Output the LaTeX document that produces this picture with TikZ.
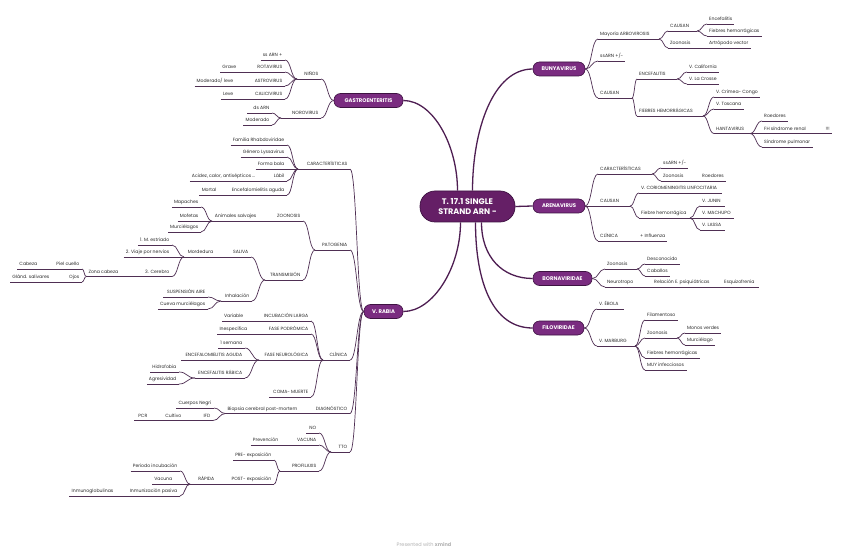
\documentclass[tikz,border=0pt]{standalone}
\usepackage{fontspec}
\setmainfont{Poppins}
\usetikzlibrary{calc}
\definecolor{lnc}{HTML}{4F2F53}
\definecolor{trunkc}{HTML}{4E1E52}
\definecolor{mainfill}{HTML}{7A2C80}
\definecolor{rootfill}{HTML}{651F66}
\definecolor{edgec}{HTML}{3E1242}
\definecolor{txt}{HTML}{2A2A2A}
\tikzset{
  lbl/.style={font=\fontsize{4.6}{5.5}\selectfont, text=txt, inner xsep=0pt, inner ysep=0.6pt, text height=0.75em, text depth=0.25em},
  ul/.style={draw=lnc, line width=0.7pt},
  trunk/.style={draw=trunkc, line width=1.3pt},
  mainbox/.style={rounded corners=6.5pt, fill=mainfill, draw=edgec, line width=0.6pt, text=white, font=\fontsize{5.3}{6}\selectfont\bfseries, minimum height=14pt, inner xsep=0pt, inner ysep=0pt},
  rootbox/.style={rounded corners=15pt, fill=rootfill, draw=edgec, line width=0.7pt, text=white, font=\fontsize{8.1}{10.8}\selectfont\bfseries, minimum width=95pt, minimum height=31pt, align=center, inner sep=0pt},
}
% right-side topic: name, x start, y line, length, text (line grows if text is longer)
\newcommand{\mmR}[5]{%
  \coordinate (#1-a) at (#2,#3);
  \node[lbl,anchor=south west] (#1) at ([xshift=2pt]#1-a) {#5};
  \path let \p1=(#1.south east), \p2=(#1-a) in coordinate (#1-b) at ({max(\x1+2pt,\x2+#4pt)},\y2);
  \draw[ul] (#1-a) -- (#1-b);}
% left-side topic: name, x right end, y line, length, text
\newcommand{\mmL}[5]{%
  \coordinate (#1-b) at (#2,#3);
  \node[lbl,anchor=south east] (#1) at ([xshift=-2.5pt]#1-b) {#5};
  \path let \p1=(#1.south west), \p2=(#1-b) in coordinate (#1-a) at ({min(\x1-2pt,\x2-#4pt)},\y2);
  \draw[ul] (#1-a) -- (#1-b);}
% curved connector between two points
\newcommand{\cc}[2]{\draw[ul] let \p1=(#1), \p2=(#2), \n1={(\x2-\x1)/2}, \n2={(\x1-\x2)/2} in (\p1) .. controls +(\n1,0) and +(\n2,0) .. (\p2);}
\begin{document}
\begin{tikzpicture}[x=1pt,y=-1pt]
\fill[white] (0,0) rectangle (848,553);
\useasboundingbox (0,0) rectangle (848,553);

% ---------- root and main topics ----------
\node[rootbox] (root) at (467.5,206.5) {T. 17.1 SINGLE\\STRAND ARN -};
\node[mainbox, minimum width=52pt] (bunya) at (559,69) {BUNYAVIRUS};
\node[mainbox, minimum width=52pt] (arena) at (559,206) {ARENAVIRUS};
\node[mainbox, minimum width=59pt] (borna) at (562.5,278.5) {BORNAVIRIDAE};
\node[mainbox, minimum width=51pt] (filo) at (558.5,328) {FILOVIRIDAE};
\node[mainbox, minimum width=69pt] (gastro) at (368.5,100.5) {GASTROENTERITIS};
\node[mainbox, minimum width=39pt] (rabia) at (383.5,311.5) {V. RABIA};

\draw[trunk] ([xshift=5pt]root.north) .. controls +(0,-60) and +(-40,0) .. (bunya.west);
\draw[trunk] ([xshift=-10pt]root.north) .. controls +(0,-45) and +(30,0) .. (gastro.east);
\draw[trunk] (root.east) -- (arena.west);
\draw[trunk] ([xshift=-7pt]root.south) .. controls +(0,45) and +(30,0) .. (rabia.east);
\draw[trunk] ([xshift=14pt]root.south) .. controls +(0,35) and +(-30,0) .. (borna.west);
\draw[trunk] ([xshift=8pt]root.south) .. controls +(0,60) and +(-40,0) .. (filo.west);

% ---------- BUNYAVIRUS ----------
\mmR{b1}{598}{39}{61}{Mayoría ARBOVIROSIS}
\mmR{b11}{668}{31}{29}{CAUSAN}
\mmR{b111}{707}{24}{27}{Encefalitis}
\mmR{b112}{707}{36}{51}{Fiebres hemorrágicas}
\mmR{b12}{668}{48}{36}{Zoonosis}
\mmR{b121}{707}{48}{44}{Artrópodo vector}
\mmR{b2}{598}{61}{26}{ssARN +/-}
\mmR{b3}{598}{98}{34}{CAUSAN}
\mmR{b31}{637}{79}{40}{ENCEFALITIS}
\mmR{b311}{687}{72}{30}{V. California}
\mmR{b312}{687}{84}{30}{V. La Crosse}
\mmR{b32}{637}{116}{66}{FIEBRES HEMORRÁGICAS}
\mmR{b321}{714}{97}{44}{V. Crimea- Congo}
\mmR{b322}{714}{109}{29}{V. Toscana}
\mmR{b323}{714}{133.5}{36}{HANTAVIRUS}
\mmR{b3231}{762}{121}{26}{Roedores}
\mmR{b3232}{762}{133.5}{70}{FH síndrome renal}
\node[lbl,anchor=south east] (b3232x) at ([xshift=-2pt]b3232-b) {!!!};
\mmR{b3233}{762}{147}{51}{Síndrome pulmonar}
\cc{bunya.east}{b1-a} \cc{bunya.east}{b2-a} \cc{bunya.east}{b3-a}
\cc{b1-b}{b11-a} \cc{b1-b}{b12-a}
\cc{b11-b}{b111-a} \cc{b11-b}{b112-a}
\draw[ul] (b12-b) -- (b121-a);
\cc{b3-b}{b31-a} \cc{b3-b}{b32-a}
\cc{b31-b}{b311-a} \cc{b31-b}{b312-a}
\cc{b32-b}{b321-a} \cc{b32-b}{b322-a} \cc{b32-b}{b323-a}
\cc{b323-b}{b3231-a} \draw[ul] (b323-b) -- (b3232-a); \cc{b323-b}{b3233-a}

% ---------- ARENAVIRUS ----------
\mmR{a1}{598}{174}{54}{CARACTERÍSTICAS}
\mmR{a11}{661}{168}{26}{ssARN +/-}
\mmR{a12}{661}{181}{36}{Zoonosis}
\mmR{a121}{700}{181}{25}{Roedores}
\mmR{a2}{598}{206}{32}{CAUSAN}
\mmR{a21}{639}{193}{83}{V. CORIOMENINGITIS LINFOCITARIA}
\mmR{a22}{639}{218}{51}{Fiebre hemorrágica}
\mmR{a221}{700}{206}{25}{V. JUNIN}
\mmR{a222}{700}{218}{34}{V. MACHUPO}
\mmR{a223}{700}{230}{25}{V. LASSA}
\mmR{a3}{598}{241}{36}{CLÍNICA}
\mmR{a31}{638}{241}{29}{+ Influenza}
\cc{arena.east}{a1-a} \draw[ul] (arena.east) -- (a2-a); \cc{arena.east}{a3-a}
\cc{a1-b}{a11-a} \cc{a1-b}{a12-a} \draw[ul] (a12-b) -- (a121-a);
\cc{a2-b}{a21-a} \cc{a2-b}{a22-a}
\cc{a22-b}{a221-a} \draw[ul] (a22-b) -- (a222-a); \cc{a22-b}{a223-a}
\draw[ul] (a3-b) -- (a31-a);

% ---------- BORNAVIRIDAE ----------
\mmR{r1}{605}{269}{32}{Zoonosis}
\mmR{r11}{645}{264}{34}{Desconocido}
\mmR{r12}{645}{276}{24}{Caballos}
\mmR{r2}{605}{287}{45}{Neurotropo}
\mmR{r21}{652}{287}{65}{Relación E. psiquiátricas}
\mmR{r211}{722}{287}{37}{Esquizofrenia}
\cc{borna.east}{r1-a} \cc{borna.east}{r2-a}
\cc{r1-b}{r11-a} \cc{r1-b}{r12-a}
\draw[ul] (r2-b) -- (r21-a); \draw[ul] (r21-b) -- (r211-a);

% ---------- FILOVIRIDAE ----------
\mmR{f1}{597}{309}{27}{V. ÉBOLA}
\mmR{f2}{597}{346}{38}{V. MARBURG}
\mmR{f21}{645}{320}{33}{Filamentoso}
\mmR{f22}{645}{338}{32}{Zoonosis}
\mmR{f221}{685}{333}{36}{Monos verdes}
\mmR{f222}{685}{345}{30}{Murciélago}
\mmR{f23}{645}{358}{52}{Fiebres hemorrágicas}
\mmR{f24}{645}{370}{42}{MUY infecciosos}
\cc{filo.east}{f1-a} \cc{filo.east}{f2-a}
\cc{f2-b}{f21-a} \cc{f2-b}{f22-a} \cc{f2-b}{f23-a} \cc{f2-b}{f24-a}
\cc{f22-b}{f221-a} \cc{f22-b}{f222-a}

% ---------- GASTROENTERITIS ----------
\mmL{g1}{321}{79}{24}{NIÑOS}
\mmL{g11}{285}{60}{24}{ss ARN +}
\mmL{g12}{285}{72}{32}{ROTAVIRUS}
\mmL{g121}{239}{72}{16}{Grave}
\mmL{g13}{285}{86}{35}{ASTROVIRUS}
\mmL{g131}{236}{86}{38}{Moderado/ leve}
\mmL{g14}{285}{99}{35}{CALICIVIRUS}
\mmL{g141}{236}{99}{13}{Leve}
\mmL{g2}{321}{118}{40}{NOROVIRUS}
\mmL{g21}{272}{113}{25}{ds ARN}
\mmL{g22}{272}{125}{27}{Moderado}
\cc{gastro.west}{g1-b} \cc{gastro.west}{g2-b}
\cc{g1-a}{g11-b} \cc{g1-a}{g12-b} \cc{g1-a}{g13-b} \cc{g1-a}{g14-b}
\draw[ul] (g12-a) -- (g121-b); \draw[ul] (g13-a) -- (g131-b); \draw[ul] (g14-a) -- (g141-b);
\cc{g2-a}{g21-b} \cc{g2-a}{g22-b}

% ---------- V. RABIA ----------
\mmL{c}{350}{169}{52}{CARACTERÍSTICAS}
\mmL{c1}{287}{145}{53}{Familia Rhabdoviridae}
\mmL{c2}{287}{157}{42}{Género Lyssavirus}
\mmL{c3}{287}{169}{29}{Forma bala}
\mmL{c4}{287}{181}{22}{Lábil}
\mmL{c41}{258}{181}{65}{Acidez, calor, antisépticos ...}
\mmL{c5}{287}{195}{55}{Encefalomielitis aguda}
\mmL{c51}{219}{195}{20}{Mortal}
\cc{c-a}{c1-b} \cc{c-a}{c2-b} \draw[ul] (c-a) -- (c3-b); \cc{c-a}{c4-b} \cc{c-a}{c5-b}
\draw[ul] (c4-a) -- (c41-b); \draw[ul] (c5-a) -- (c51-b);

\mmL{p}{350}{250}{35}{PATOGENIA}
\mmL{p1}{303}{221}{38}{ZOONOSIS}
\mmL{p11}{259}{221}{47}{Animales salvajes}
\mmL{p111}{201}{207}{28}{Mapaches}
\mmL{p112}{201}{221}{23}{Mofetas}
\mmL{p113}{201}{232}{32}{Murciélagos}
\mmL{p2}{303}{280}{38}{TRANSMISIÓN}
\mmL{p21}{251}{257}{27}{SALIVA}
\mmL{p211}{216}{257}{32}{Mordedura}
\mmL{p2111}{172}{245}{33}{1. M. estriado}
\mmL{p2112}{172}{257}{45}{2. Viaje por nervios}
\mmL{p2113}{172}{276.5}{28}{3. Cerebro}
\mmL{p21131}{121}{276.5}{31}{Zona cabeza}
\mmL{p211311}{82}{269}{30}{Piel cuello}
\mmL{p2113111}{40}{269}{22}{Cabeza}
\mmL{p211312}{82}{282}{16}{Ojos}
\mmL{p2113121}{52}{282}{37}{Glánd. salivares}
\mmL{p22}{252}{301}{31}{Inhalación}
\mmL{p221}{208}{297}{45}{SUSPENSIÓN AIRE}
\mmL{p222}{208}{309}{45}{Cueva murciélagos}
\cc{p-a}{p1-b} \cc{p-a}{p2-b}
\draw[ul] (p1-a) -- (p11-b);
\cc{p11-a}{p111-b} \draw[ul] (p11-a) -- (p112-b); \cc{p11-a}{p113-b}
\cc{p2-a}{p21-b} \cc{p2-a}{p22-b}
\draw[ul] (p21-a) -- (p211-b);
\cc{p211-a}{p2111-b} \draw[ul] (p211-a) -- (p2112-b); \cc{p211-a}{p2113-b}
\draw[ul] (p2113-a) -- (p21131-b);
\cc{p21131-a}{p211311-b} \cc{p21131-a}{p211312-b}
\draw[ul] (p211311-a) -- (p2113111-b); \draw[ul] (p211312-a) -- (p2113121-b);
\cc{p22-a}{p221-b} \cc{p22-a}{p222-b}

\mmL{k}{350}{360}{27}{CLÍNICA}
\mmL{k1}{311}{321}{52}{INCUBACIÓN LARGA}
\mmL{k11}{246}{321}{23}{Variable}
\mmL{k2}{311}{334}{48}{FASE PODRÓMICA}
\mmL{k21}{250}{334}{30}{Inespecífica}
\mmL{k3}{311}{360}{52}{FASE NEUROLÓGICA}
\mmL{k31}{245}{348}{25}{1 semana}
\mmL{k32}{245}{360}{64}{ENCEFALOMIELITIS AGUDA}
\mmL{k33}{245}{378}{50}{ENCEFALITIS RÁBICA}
\mmL{k331}{179}{372}{28}{Hidrofobia}
\mmL{k332}{179}{384}{29}{Agresividad}
\mmL{k4}{311}{397}{42}{COMA- MUERTE}
\cc{k-a}{k1-b} \cc{k-a}{k2-b} \draw[ul] (k-a) -- (k3-b); \cc{k-a}{k4-b}
\draw[ul] (k1-a) -- (k11-b); \draw[ul] (k2-a) -- (k21-b);
\cc{k3-a}{k31-b} \draw[ul] (k3-a) -- (k32-b); \cc{k3-a}{k33-b}
\cc{k33-a}{k331-b} \cc{k33-a}{k332-b}

\mmL{d}{350}{413.5}{36}{DIAGNÓSTICO}
\mmL{d1}{300}{413.5}{74}{Biopsia cerebral post-mortem}
\mmL{d11}{214}{408}{37}{Cuerpos Negri}
\mmL{d12}{213}{420.5}{14}{IFD}
\mmL{d121}{184}{420.5}{22}{Cultivo}
\mmL{d1211}{150}{420.5}{16}{PCR}
\draw[ul] (d-a) -- (d1-b);
\cc{d1-a}{d11-b} \cc{d1-a}{d12-b}
\draw[ul] (d12-a) -- (d121-b); \draw[ul] (d121-a) -- (d1211-b);

\mmL{t}{350}{452}{19}{TTO}
\mmL{t1}{319}{433}{13}{NO}
\mmL{t2}{319}{445}{29}{VACUNA}
\mmL{t21}{281}{445}{29}{Prevención}
\mmL{t3}{319}{471}{39}{PROFILAXIS}
\mmL{t31}{274}{460}{39}{PRE- exposición}
\mmL{t32}{274}{484}{47}{POST- exposición}
\mmL{t321}{217}{484}{27}{RÁPIDA}
\mmL{t3211}{180}{471}{48}{Periodo incubación}
\mmL{t3212}{175}{484}{18}{Vacuna}
\mmL{t3213}{180}{496}{52}{Inmunización pasiva}
\mmL{t32131}{116}{496}{45}{Inmunoglobulinas}
\cc{t-a}{t1-b} \cc{t-a}{t2-b} \cc{t-a}{t3-b}
\draw[ul] (t2-a) -- (t21-b);
\cc{t3-a}{t31-b} \cc{t3-a}{t32-b}
\draw[ul] (t32-a) -- (t321-b);
\cc{t321-a}{t3211-b} \draw[ul] (t321-a) -- (t3212-b); \cc{t321-a}{t3213-b}
\draw[ul] (t3213-a) -- (t32131-b);

\cc{rabia.west}{c-b} \cc{rabia.west}{p-b} \cc{rabia.west}{k-b} \cc{rabia.west}{d-b} \cc{rabia.west}{t-b}

% ---------- footer ----------
\node[font=\fontsize{5}{6}\selectfont, text=black!30, inner sep=0pt] (foot) at (424,545) {Presented with \textbf{xmind}};
\end{tikzpicture}
\end{document}
